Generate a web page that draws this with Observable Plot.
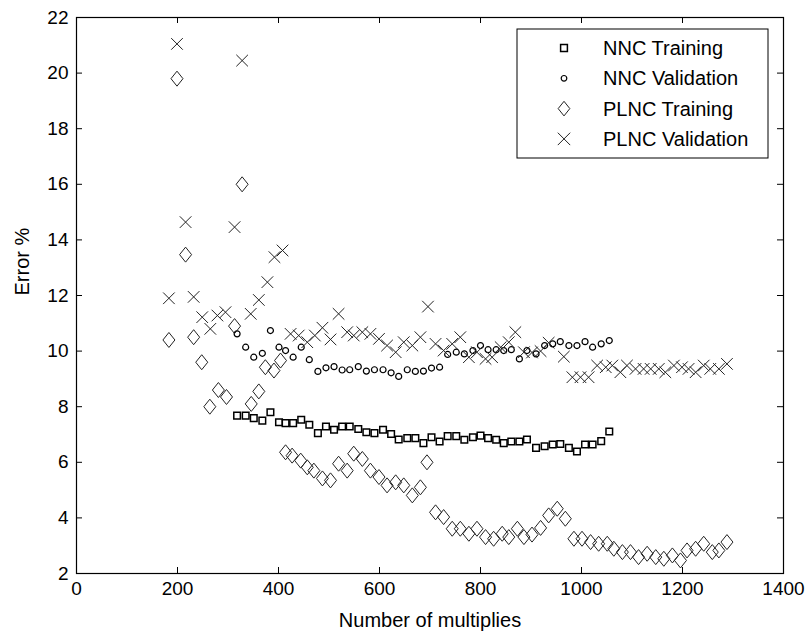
<!DOCTYPE html>
<html><head><meta charset="utf-8">
<script src="https://cdn.jsdelivr.net/npm/d3@7"></script>
<script src="https://cdn.jsdelivr.net/npm/@observablehq/plot@0.6"></script>
<style>
html,body{margin:0;padding:0;background:#fff;}
#chart{width:809px;height:633px;}
</style></head><body><div id="chart"></div>
<script>
// ---------- data ----------
const seriesNames = ["NNC Training", "NNC Validation", "PLNC Training", "PLNC Validation"];
const xTicks = [0, 200, 400, 600, 800, 1000, 1200, 1400];
const yTicks = [2, 4, 6, 8, 10, 12, 14, 16, 18, 20, 22];
const xLabel = "Number of multiplies";
const yLabel = "Error %";

const nncX = [318,335,351,368,384,401,414,429,445,461,478,494,510,526,541,558,574,590,607,623,638,655,671,687,703,719,735,752,768,785,800,815,831,846,861,877,892,910,927,943,958,975,991,1007,1022,1039,1055];
const nncTrainY = [7.68,7.68,7.59,7.5,7.8,7.44,7.41,7.41,7.53,7.35,7.05,7.29,7.17,7.29,7.29,7.2,7.08,7.05,7.17,7.02,6.82,6.87,6.87,6.69,6.9,6.75,6.94,6.94,6.81,6.9,6.96,6.87,6.81,6.69,6.75,6.75,6.82,6.52,6.58,6.64,6.66,6.52,6.39,6.64,6.64,6.76,7.11];
const nncValY = [10.62,10.14,9.78,9.92,10.74,10.14,10.02,9.78,10.14,9.69,9.27,9.4,9.44,9.32,9.33,9.44,9.28,9.33,9.33,9.22,9.09,9.33,9.27,9.28,9.39,9.42,9.88,9.96,9.9,10.02,10.2,10.05,10.05,10.02,10.05,9.72,10.02,9.9,10.2,10.26,10.34,10.2,10.2,10.34,10.14,10.26,10.38];

const plncTrainX = [183,199,216,232,248,264,281,297,313,328,346,361,374,391,404,414,427,444,457,470,487,503,519,536,549,566,582,599,615,632,648,665,681,694,711,727,744,760,777,793,810,826,843,856,873,886,902,919,935,952,968,985,1001,1018,1034,1051,1064,1081,1097,1113,1130,1147,1163,1180,1196,1209,1226,1242,1259,1272,1288];
const plncTrainY = [10.4,19.8,13.47,10.5,9.6,8.0,8.6,8.35,10.9,16.0,8.1,8.55,9.42,9.3,9.66,6.36,6.24,6.06,5.82,5.7,5.42,5.35,5.95,5.7,6.31,6.12,5.7,5.47,5.17,5.28,5.17,4.81,5.1,6.0,4.2,4.03,3.61,3.61,3.43,3.61,3.31,3.25,3.43,3.31,3.61,3.31,3.4,3.64,4.09,4.33,3.97,3.25,3.25,3.13,3.07,3.07,2.89,2.77,2.77,2.59,2.71,2.59,2.53,2.65,2.47,2.83,2.89,3.07,2.77,2.83,3.13];

const plncValX = [183,199,216,232,249,265,279,295,313,328,345,361,378,392,408,424,440,457,472,487,503,519,536,549,566,582,599,615,632,648,665,681,696,711,727,744,760,777,793,810,823,840,856,869,886,902,919,935,965,982,998,1014,1031,1048,1061,1077,1090,1107,1123,1137,1153,1166,1183,1199,1212,1226,1242,1255,1272,1288];
const plncValY = [11.9,21.05,14.64,11.95,11.22,10.8,11.28,11.4,14.46,20.45,11.34,11.84,12.48,13.38,13.62,10.62,10.56,10.32,10.56,10.84,10.42,11.34,10.68,10.56,10.68,10.62,10.44,10.2,9.96,10.32,10.2,10.5,11.6,10.26,10.02,10.26,10.5,9.78,9.96,9.72,9.78,10.14,10.32,10.68,9.96,9.95,10.0,10.3,9.8,9.06,9.06,9.06,9.48,9.42,9.48,9.24,9.48,9.36,9.36,9.36,9.36,9.24,9.48,9.42,9.36,9.24,9.48,9.36,9.36,9.54];

// ---------- build tables ----------
const toRows = (xs, ys) => xs.map((x, i) => ({x, y: ys[i]}));
const nncTrain = toRows(nncX, nncTrainY);
const nncVal = toRows(nncX, nncValY);
const plncTrain = toRows(plncTrainX, plncTrainY);
const plncVal = toRows(plncValX, plncValY);

// ---------- marker symbols (MATLAB-like) ----------
const R = size => Math.sqrt(size / Math.PI);
const symSquare = {draw(ctx, size) { const r = R(size); ctx.moveTo(-r, -r); ctx.lineTo(r, -r); ctx.lineTo(r, r); ctx.lineTo(-r, r); ctx.closePath(); }};
const symCircle = {draw(ctx, size) { const r = R(size); ctx.moveTo(r, 0); ctx.arc(0, 0, r, 0, 2 * Math.PI); }};
const symDiamond = {draw(ctx, size) { const r = R(size), w = r * 0.8; ctx.moveTo(0, -r); ctx.lineTo(w, 0); ctx.lineTo(0, r); ctx.lineTo(-w, 0); ctx.closePath(); }};
const symTimes = {draw(ctx, size) { const r = R(size); ctx.moveTo(-r, -r); ctx.lineTo(r, r); ctx.moveTo(-r, r); ctx.lineTo(r, -r); }};

const styles = [
  {sym: symSquare, r: 3.3, sw: 1.5, stroke: "#000"},
  {sym: symCircle, r: 3.0, sw: 1.2, stroke: "#000"},
  {sym: symDiamond, r: 7.5, sw: 1, stroke: "#222"},
  {sym: symTimes, r: 5.8, sw: 1, stroke: "#222"}
];

const W = 809, H = 633;
const mL = 76, mR = 26, mT = 17, mB = 60;
const iW = W - mL - mR, iH = H - mT - mB;
const tickLen = 6;
const font = "'Liberation Sans', Arial, sans-serif";
const fmt = d => String(d);

const dot = (data, s) => Plot.dot(data, {x: "x", y: "y", symbol: s.sym, r: s.r, stroke: s.stroke, strokeWidth: s.sw, fill: "none"});

const chart = Plot.plot({
  width: W, height: H,
  marginLeft: mL, marginRight: mR, marginTop: mT, marginBottom: mB,
  style: {fontFamily: font, fontSize: "19px", color: "#000", background: "#fff"},
  x: {domain: [0, 1400], nice: false},
  y: {domain: [2, 22], nice: false},
  marks: [
    dot(nncTrain, styles[0]),
    dot(nncVal, styles[1]),
    dot(plncTrain, styles[2]),
    dot(plncVal, styles[3]),
    // inward ticks on all four sides
    Plot.tickX(xTicks, {x: d => d, insetTop: iH - tickLen, stroke: "#000", strokeWidth: 1}),
    Plot.tickX(xTicks, {x: d => d, insetBottom: iH - tickLen, stroke: "#000", strokeWidth: 1}),
    Plot.tickY(yTicks, {y: d => d, insetRight: iW - tickLen, stroke: "#000", strokeWidth: 1}),
    Plot.tickY(yTicks, {y: d => d, insetLeft: iW - tickLen, stroke: "#000", strokeWidth: 1}),
    Plot.frame({stroke: "#000", strokeWidth: 1.2}),
    Plot.axisX({ticks: xTicks, tickFormat: fmt, tickSize: 0, tickPadding: 8, label: null, fontSize: 19}),
    Plot.axisY({ticks: yTicks, tickFormat: fmt, tickSize: 0, tickPadding: 8, label: null, fontSize: 19}),
    Plot.text([xLabel], {text: d => d, frameAnchor: "bottom", dy: 47, fontSize: 20, lineAnchor: "middle"}),
    Plot.text([yLabel], {text: d => d, frameAnchor: "left", dx: -54, rotate: -90, fontSize: 20, lineAnchor: "middle"})
  ]
});
document.getElementById("chart").appendChild(chart);

// ---------- legend (inside the axes, top right) ----------
const svg = d3.select(chart);
const lg = svg.append("g").attr("class", "legend").attr("text-anchor", "start");
const box = {x: 517, y: 29, w: 251, h: 129};
lg.append("rect").attr("x", box.x).attr("y", box.y).attr("width", box.w).attr("height", box.h)
  .attr("fill", "#fff").attr("stroke", "#000").attr("stroke-width", 1);
const legendR = [3.4, 2.8, 7.3, 6.2];
seriesNames.forEach((name, i) => {
  const cy = 48 + i * 30.3;
  const p = d3.path();
  styles[i].sym.draw(p, legendR[i] * legendR[i] * Math.PI);
  lg.append("path").attr("d", p.toString()).attr("transform", `translate(564,${cy})`)
    .attr("fill", "none").attr("stroke", styles[i].stroke).attr("stroke-width", styles[i].sw);
  lg.append("text").attr("x", 603).attr("y", cy).attr("dy", "0.35em").attr("text-anchor", "start")
    .attr("font-family", font).attr("font-size", 20).attr("fill", "#000").text(name);
});
</script>
</body></html>
